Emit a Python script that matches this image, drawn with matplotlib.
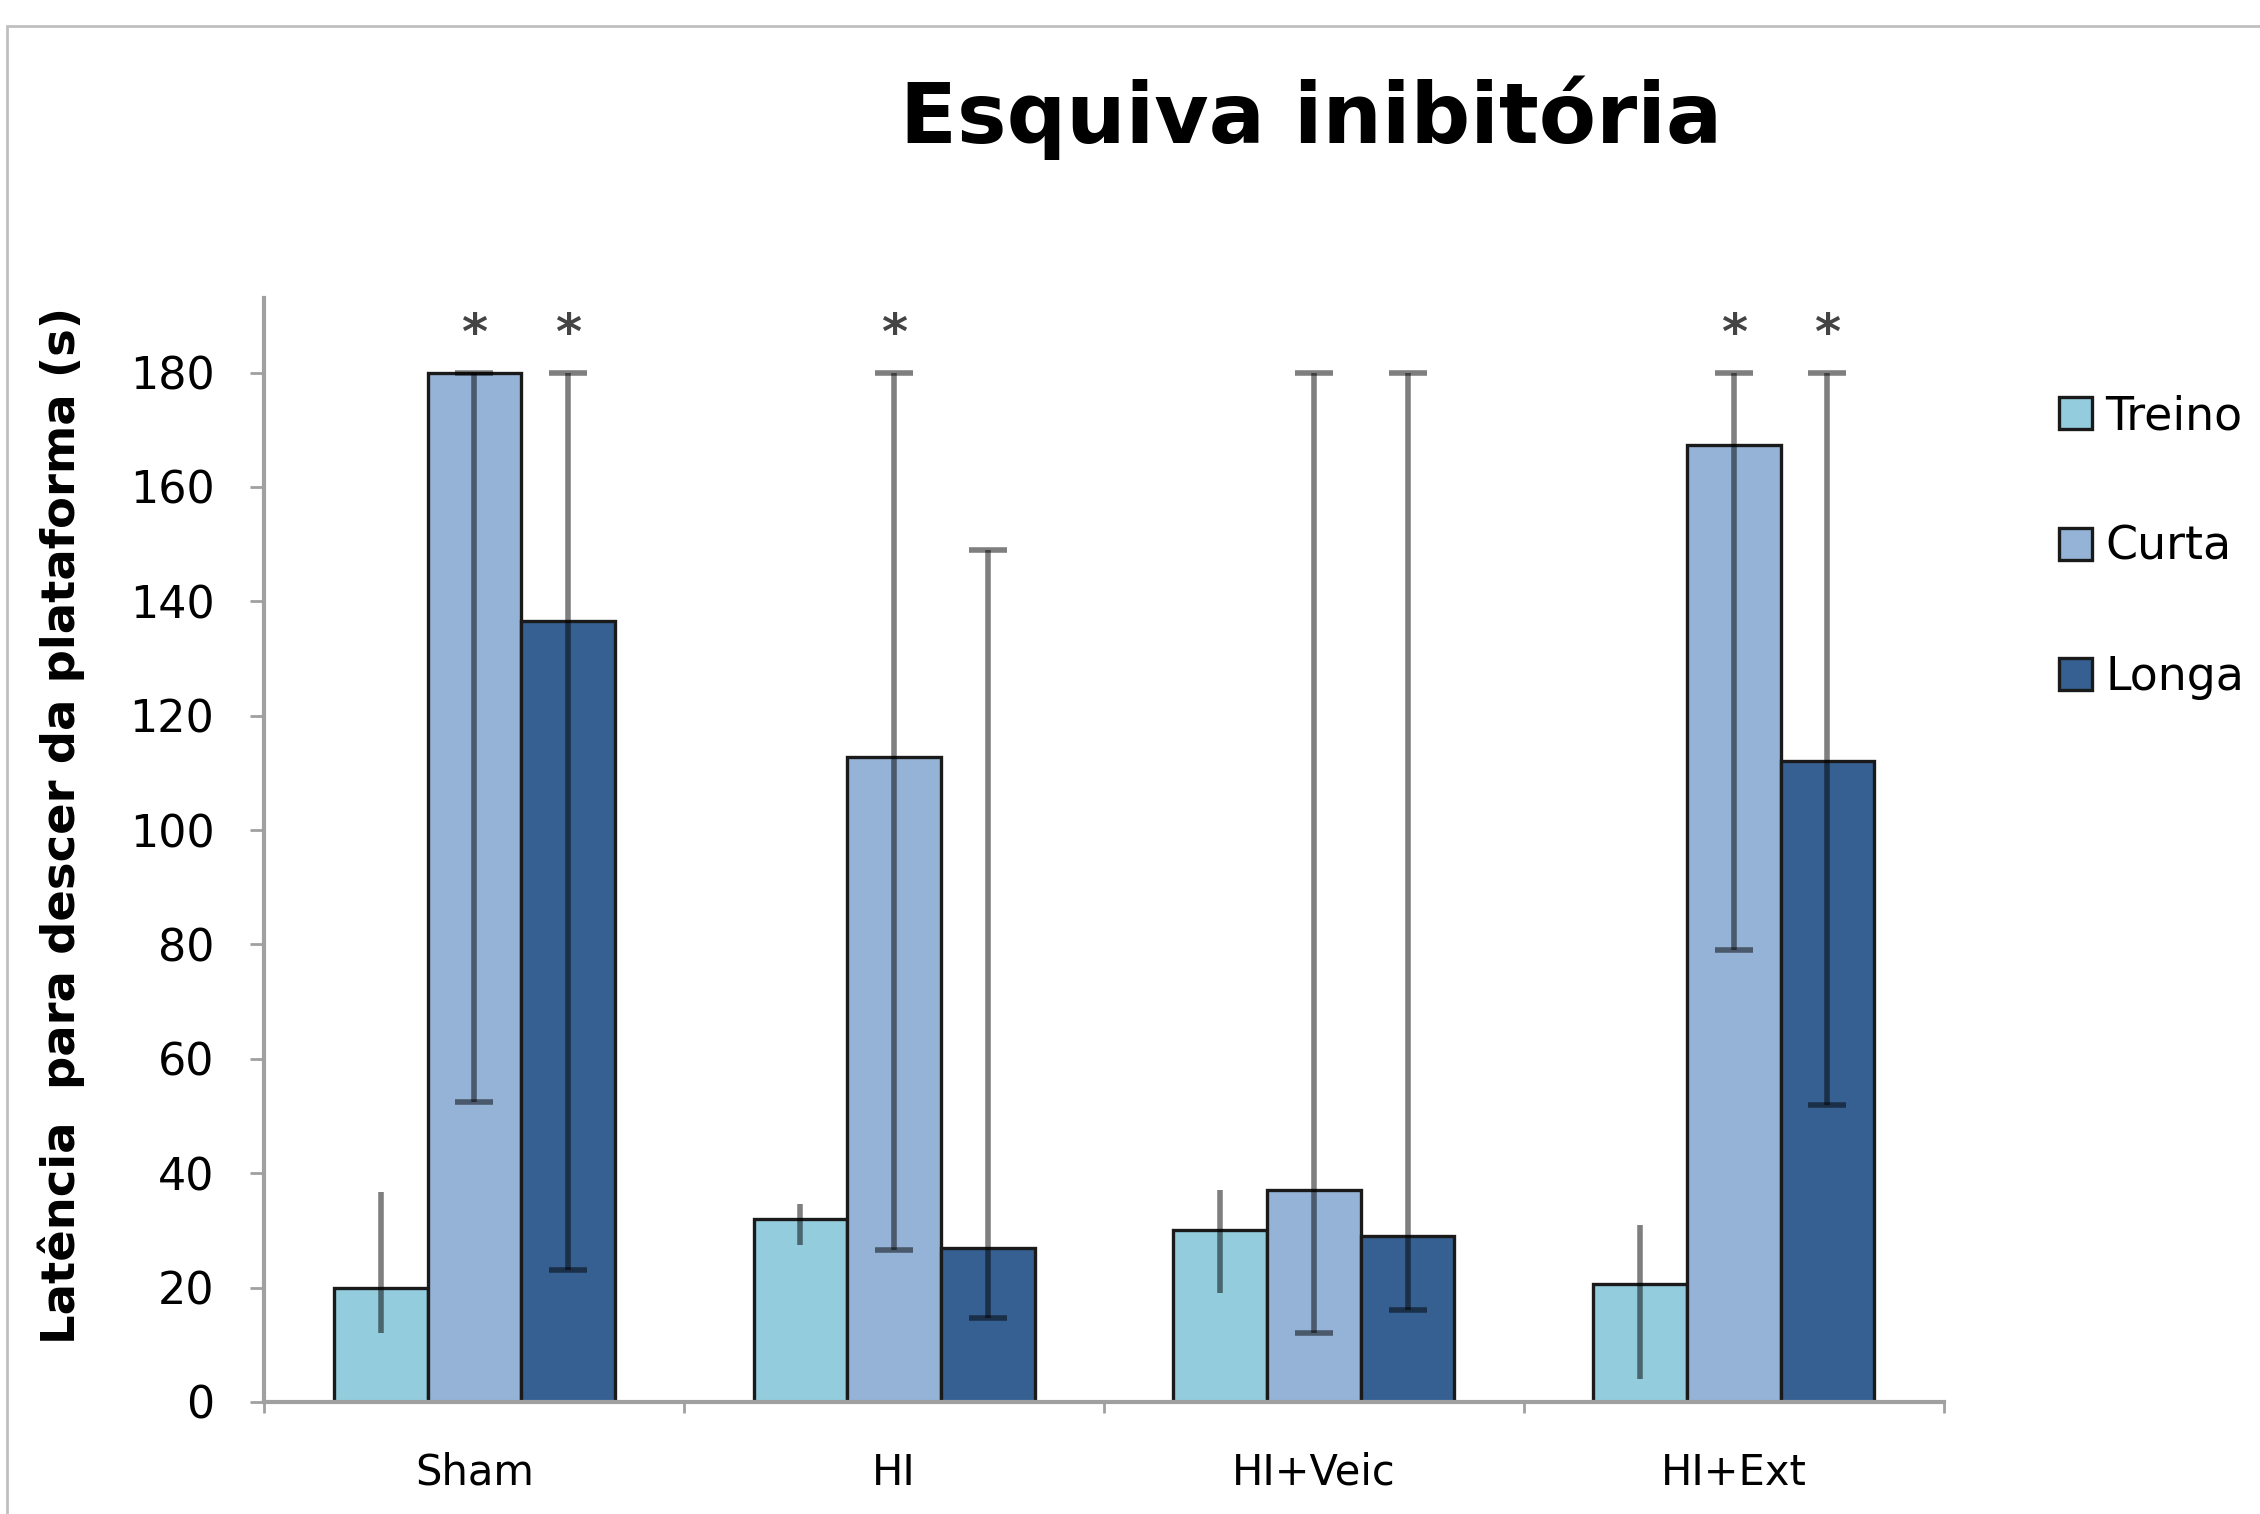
import numpy as np
import matplotlib
matplotlib.use("Agg")
import matplotlib.pyplot as plt
from matplotlib.patches import Rectangle

plt.rcParams['font.family'] = ['DejaVu Sans']

groups = ["Sham", "HI", "HI+Veic", "HI+Ext"]
series = ["Treino", "Curta", "Longa"]

treino = [20, 32, 30, 20.7]
curta = [180, 112.7, 37, 167.3]
longa = [136.5, 27, 29, 112]

# error bar ends (low, high)
treino_lo = [12, 27.5, 19, 4]
treino_hi = [36.7, 34.6, 37, 31]
curta_lo = [52.5, 26.5, 12, 79]
curta_hi = [180, 180, 180, 180]
longa_lo = [23, 14.7, 16, 52]
longa_hi = [180, 149, 180, 180]

stars = {"Curta": [0, 1, 3], "Longa": [0, 3]}

colors = ["#93CDDD", "#95B3D7", "#366092"]

fig = plt.figure(figsize=(22.6, 15.14), dpi=100)
ax = fig.add_axes([0.117, 0.074, 0.743, 0.729])

x = np.arange(len(groups))
w = 0.223
vals = [treino, curta, longa]
los = [treino_lo, curta_lo, longa_lo]
his = [treino_hi, curta_hi, longa_hi]
for i, name in enumerate(series):
    v = np.array(vals[i])
    yerr = [v - np.array(los[i]), np.array(his[i]) - v]
    ax.bar(x + (i - 1) * w, v, w, color=colors[i], edgecolor="#1a1a1a",
           linewidth=2.4, label=name, zorder=2)
    ax.errorbar(x + (i - 1) * w, v, yerr=yerr, fmt="none", ecolor="black",
                alpha=0.5, elinewidth=4, capsize=0 if i == 0 else 14,
                capthick=4, zorder=3)

for i, name in enumerate(series):
    for g in stars.get(name, []):
        ax.text(x[g] + (i - 1) * w, 186.5, "*", ha="center", va="center",
                fontsize=36, color="#444444", fontweight="bold")

ax.set_xlim(-0.5, 3.5)
ax.set_ylim(0, 193)
ax.set_yticks(np.arange(0, 181, 20))
ax.set_xticks(x)
ax.set_xticklabels(groups)
ax.set_xticks(np.arange(-0.5, 3.6, 1), minor=True)
ax.tick_params(axis="x", which="major", length=0, pad=36, labelsize=30)
ax.tick_params(axis="x", which="minor", length=8, width=2, color="#a0a0a0", direction="out")
ax.tick_params(axis="y", length=10, width=2, color="#a0a0a0", pad=26, labelsize=32)
for s in ["top", "right"]:
    ax.spines[s].set_visible(False)
for s in ["left", "bottom"]:
    ax.spines[s].set_color("#a0a0a0")
    ax.spines[s].set_linewidth(3)

fig.text(0.58, 0.922, "Esquiva inibitória", ha="center", va="center",
         fontsize=60, fontweight="bold")
fig.text(0.027, 0.455, "Latência  para descer da plataforma (s)", ha="center",
         va="center", rotation=90, fontsize=33.5, fontweight="bold")

ax.legend(loc="upper left", bbox_to_anchor=(0.893, 0.767), bbox_transform=fig.transFigure,
          frameon=False, fontsize=33, handlelength=0.7, handleheight=0.7,
          handletextpad=0.3, labelspacing=1.87)

fig.patches.append(Rectangle((0.003, -0.1), 1.1, 1.083, transform=fig.transFigure,
                             fill=False, edgecolor="#c0c0c0", linewidth=2))

fig.savefig("out.png", dpi=100)
